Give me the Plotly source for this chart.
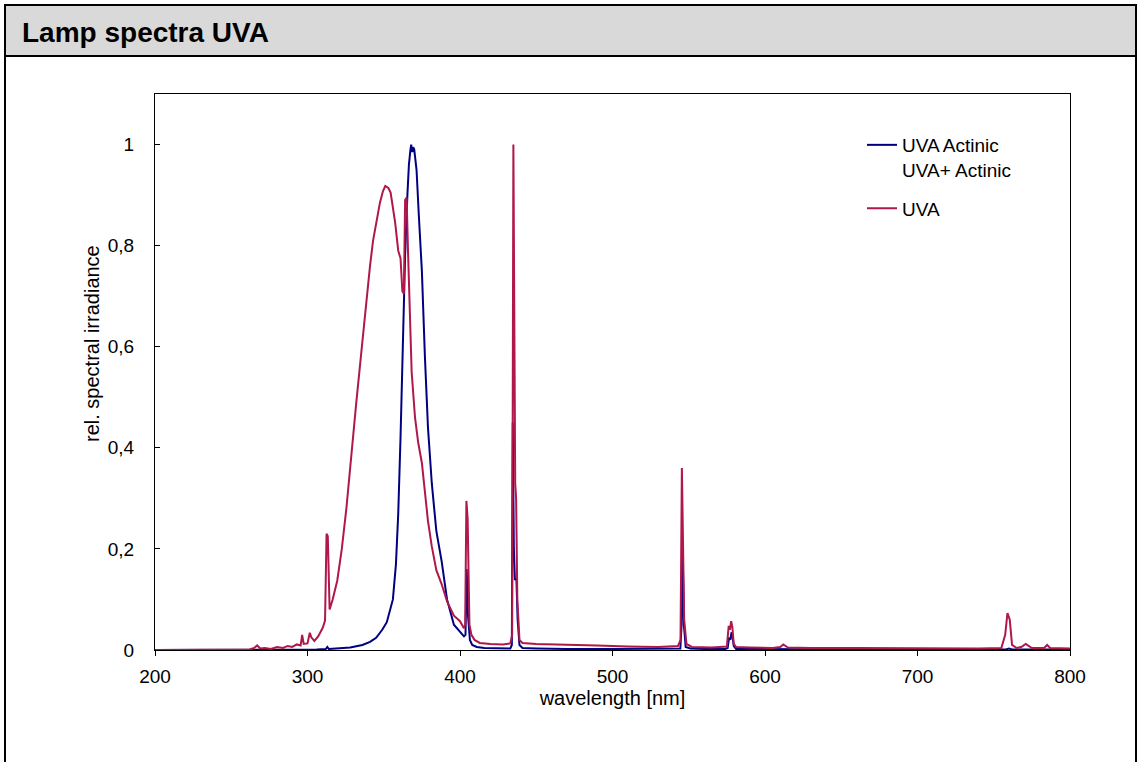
import plotly.graph_objects as go

# spectra (wavelength in nm, relative irradiance)
wl_actinic = [200, 260, 300, 306, 312, 313, 314, 320, 328, 336, 341, 345, 349, 352, 354, 356,
              358, 359.5, 361, 362.5, 364, 365.5, 366.5, 367.5, 368, 368.7, 369.3, 370, 370.6,
              371.5, 373, 375, 377, 379, 381.5, 384.5, 388, 391.5, 396, 400, 402.6, 403.6, 404.4,
              405.2, 406.5, 408, 411, 416, 425, 433, 434, 434.6, 435.3, 436, 437, 437.8, 439,
              441, 450, 470, 500, 520, 540, 544.5, 545.3, 546, 546.8, 548, 551, 560, 574, 575.5,
              576.5, 577.3, 578, 578.6, 579.5, 581, 590, 620, 650, 700, 758, 760, 762, 800]
irr_actinic = [0, 0, 0.001, 0.001, 0.002, 0.006, 0.002, 0.003, 0.005, 0.01, 0.016, 0.024, 0.04,
               0.055, 0.075, 0.1, 0.17, 0.27, 0.42, 0.6, 0.78, 0.9, 0.96, 0.99, 1.0, 0.985, 0.995,
               0.99, 0.975, 0.95, 0.86, 0.75, 0.58, 0.44, 0.33, 0.235, 0.175, 0.1, 0.05, 0.037,
               0.027, 0.03, 0.16, 0.07, 0.02, 0.01, 0.006, 0.004, 0.003, 0.003, 0.01, 0.45, 0.2,
               0.14, 0.14, 0.06, 0.01, 0.004, 0.003, 0.002, 0.002, 0.002, 0.002, 0.003, 0.05, 0.2,
               0.05, 0.006, 0.003, 0.002, 0.002, 0.004, 0.025, 0.02, 0.035, 0.03, 0.008, 0.002,
               0.002, 0.001, 0.001, 0.001, 0.001, 0.003, 0.001, 0.001]

wl_uva = [200, 262, 265, 267, 269, 272, 276, 280, 284, 287, 290, 293, 295.5, 296.5, 297.5, 300,
          301.5, 302.5, 304.5, 307, 310, 311.5, 312.5, 313.3, 314.5, 316.5, 319.5, 322.5, 325.5,
          329, 332, 334.5, 336.5, 338.5, 341, 343, 345.5, 347.5, 349.5, 351, 353, 354.5, 355.5,
          357.5, 359.5, 361, 362.2, 363.2, 364, 365, 365.8, 366.8, 368.3, 370.5, 372.6, 375, 377,
          379, 381.5, 384.5, 388, 391.5, 396, 400, 402.6, 403.4, 404.2, 405, 406.2, 407.5, 409.5,
          413, 420, 428, 433, 434.2, 435, 435.6, 436.2, 436.8, 437.6, 439, 441, 450, 470, 490,
          510, 530, 543, 544.6, 545.5, 546.2, 547, 548.5, 552, 565, 575, 576.2, 577, 577.8,
          578.6, 579.5, 581, 590, 605, 610, 612, 615, 630, 660, 700, 740, 755, 757.5, 759, 760.5,
          762, 765, 768, 771, 775, 783, 785, 787, 800]
irr_uva = [0, 0.001, 0.004, 0.009, 0.003, 0.004, 0.002, 0.006, 0.004, 0.008, 0.006, 0.011, 0.009,
           0.03, 0.012, 0.013, 0.034, 0.025, 0.018, 0.027, 0.044, 0.058, 0.23, 0.225, 0.08, 0.1,
           0.137, 0.2, 0.28, 0.4, 0.49, 0.565, 0.625, 0.69, 0.76, 0.81, 0.855, 0.885, 0.908, 0.918,
           0.914, 0.905, 0.885, 0.845, 0.79, 0.775, 0.71, 0.705, 0.89, 0.895, 0.8, 0.7, 0.55,
           0.46, 0.41, 0.37, 0.315, 0.255, 0.205, 0.158, 0.13, 0.096, 0.068, 0.057, 0.043, 0.05,
           0.295, 0.26, 0.05, 0.03, 0.02, 0.014, 0.012, 0.011, 0.013, 0.03, 1.0, 0.6, 0.33, 0.3,
           0.1, 0.02, 0.014, 0.012, 0.011, 0.009, 0.007, 0.006, 0.008, 0.02, 0.36, 0.25, 0.06,
           0.012, 0.006, 0.005, 0.007, 0.048, 0.04, 0.057, 0.045, 0.012, 0.006, 0.005, 0.004,
           0.006, 0.011, 0.005, 0.004, 0.004, 0.003, 0.003, 0.004, 0.03, 0.073, 0.06, 0.01,
           0.004, 0.006, 0.012, 0.004, 0.004, 0.01, 0.004, 0.003]

x_ticks = [200, 300, 400, 500, 600, 700, 800]
y_ticks = [0, 0.2, 0.4, 0.6, 0.8, 1]
y_tick_text = ['0', '0,2', '0,4', '0,6', '0,8', '1']

FONT = 'Liberation Sans, Arial, sans-serif'

fig = go.Figure()
fig.add_trace(go.Scatter(
    x=wl_actinic, y=irr_actinic, mode='lines', name='UVA Actinic<br>UVA+ Actinic',
    line=dict(color='#000080', width=2), legendgroup='a'))
fig.add_trace(go.Scatter(
    x=wl_uva, y=irr_uva, mode='lines', name='UVA',
    line=dict(color='#B0174B', width=2), legendgroup='b'))


# page frame and grey title band (pixel -> paper coords of a 915x556 plot area at 155,94)
def px(x):
    return (x - 155) / 915


def py(y):
    return (650 - y) / 556


fig.add_shape(type='rect', xref='paper', yref='paper', x0=px(5), x1=px(1136), y0=py(56), y1=py(5),
              fillcolor='#d9d9d9', line=dict(color='black', width=2), layer='below')
fig.add_shape(type='rect', xref='paper', yref='paper', x0=px(5), x1=px(1136), y0=py(790), y1=py(5),
              fillcolor='rgba(0,0,0,0)', line=dict(color='black', width=2))
fig.add_annotation(text='<b>Lamp spectra UVA</b>', xref='paper', yref='paper', x=px(20), y=py(32),
                   xanchor='left', yanchor='middle', showarrow=False,
                   font=dict(family=FONT, size=28, color='black'))
# y-axis title sits a bit above the middle of the axis, as in the original
fig.add_annotation(text='rel. spectral irradiance', xref='paper', yref='paper', x=px(92), y=py(344),
                   xanchor='center', yanchor='middle', textangle=-90, showarrow=False,
                   font=dict(family=FONT, size=20, color='black'))

fig.update_layout(
    width=1138, height=762,
    margin=dict(l=155, r=68, t=94, b=112),
    paper_bgcolor='white', plot_bgcolor='white',
    font=dict(family=FONT, size=18, color='black'),
    showlegend=True,
    legend=dict(x=px(862), y=py(126), xanchor='left', yanchor='top', bgcolor='rgba(0,0,0,0)',
                font=dict(size=19), valign='top', tracegroupgap=11, itemwidth=30,
                traceorder='grouped'),
    xaxis=dict(range=[200, 800], tickvals=x_ticks, ticks='outside', ticklen=5, tickcolor='black',
               showline=True, linecolor='black', linewidth=1, mirror=True, showgrid=False,
               zeroline=False, ticklabelstandoff=4, tickfont=dict(size=19),
               title=dict(text='wavelength [nm]', font=dict(size=20), standoff=3)),
    yaxis=dict(range=[0, 1.1], tickvals=y_ticks, ticktext=y_tick_text, ticks='inside', ticklen=5,
               tickcolor='black', showline=True, linecolor='black', linewidth=1, mirror=True,
               showgrid=False, zeroline=False, ticklabelstandoff=16, tickfont=dict(size=19)),
)

# the page's default body margin would shift the chart by 8px
fig.write_html('out.html', config={'displayModeBar': False},
               post_script="document.body.style.margin='0';")
